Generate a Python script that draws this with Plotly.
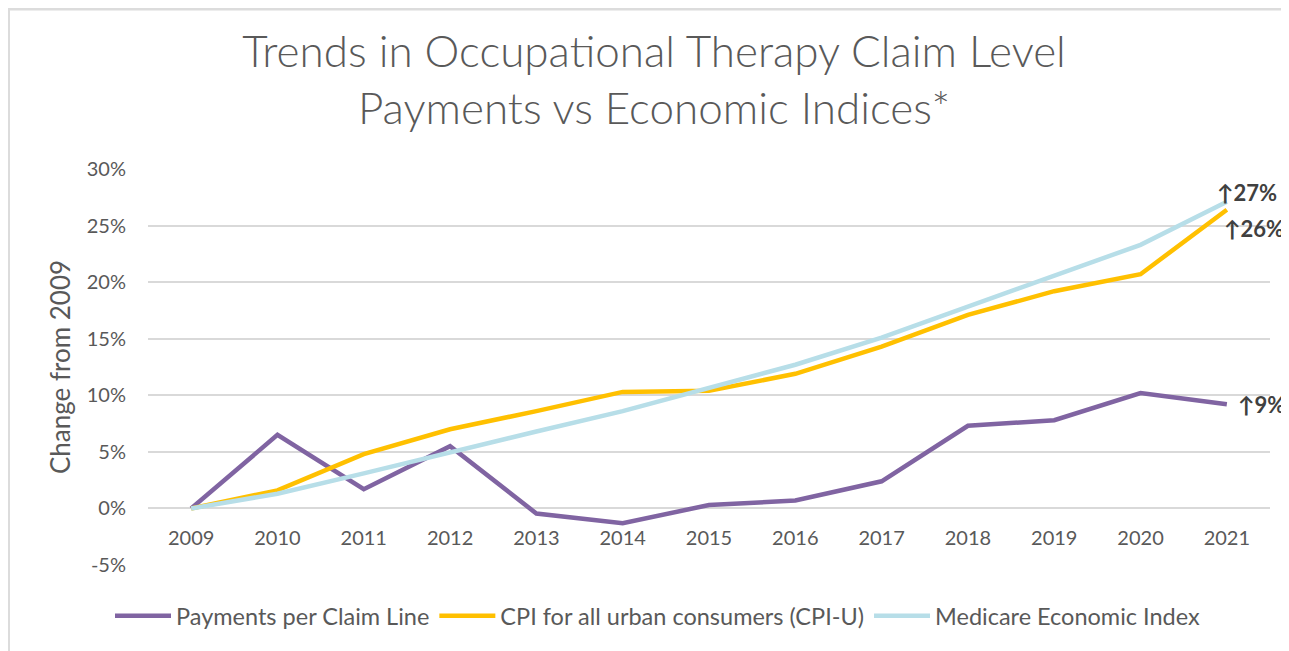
import plotly.graph_objects as go

years = ["2009", "2010", "2011", "2012", "2013", "2014", "2015", "2016", "2017", "2018", "2019", "2020", "2021"]
payments = [0.0, 6.5, 1.7, 5.5, -0.45, -1.3, 0.3, 0.7, 2.4, 7.3, 7.8, 10.2, 9.2]
cpi_u = [0.0, 1.6, 4.8, 7.0, 8.6, 10.3, 10.4, 11.9, 14.3, 17.1, 19.2, 20.7, 26.4]
mei = [0.0, 1.3, 3.1, 5.0, 6.8, 8.6, 10.6, 12.7, 15.1, 17.8, 20.5, 23.3, 27.1]

series_names = ["Payments per Claim Line", "CPI for all urban consumers (CPI-U)", "Medicare Economic Index"]
series_colors = ["#8064A2", "#FFC000", "#B7DEE8"]
y_ticks = [-5, 0, 5, 10, 15, 20, 25, 30]
y_tick_labels = ["-5%", "0%", "5%", "10%", "15%", "20%", "25%", "30%"]

FONT = "Lato, Carlito, Calibri, sans-serif"
GREY = "#595959"

# page has an 8px body margin, so the figure is drawn 8px smaller and offset
W, H = 1281, 643
ML, MR, MT, MB = 140, 19, 161, 86

fig = go.Figure()
for name, vals, col in zip(series_names, [payments, cpi_u, mei], series_colors):
    fig.add_trace(go.Scatter(x=years, y=vals, name=name, mode="lines",
                             line=dict(color=col, width=4.5)))

# end labels at the last category (by index on the category axis)
last = len(years) - 1
end_shifts = [(9, 0), (-12, 9), (-5, -19)]
for vals, (dx, dy) in zip([payments, mei, cpi_u], end_shifts):
    v = vals[-1]
    fig.add_annotation(x=last, y=v, xref="x", yref="y", text=f"<b>↑{round(v)}%</b>",
                       showarrow=False, xanchor="left", yanchor="middle", xshift=dx, yshift=dy,
                       font=dict(family=FONT, size=22, color="#404040"))

fig.update_layout(
    width=W, height=H,
    paper_bgcolor="white", plot_bgcolor="white",
    margin=dict(l=ML, r=MR, t=MT, b=MB),
    title=dict(text="Trends in Occupational Therapy Claim Level<br>Payments vs Economic Indices*",
               x=646 / W, xanchor="center", xref="container", y=1 - 59 / H, yanchor="middle", yref="container",
               font=dict(family=FONT, size=44, color=GREY, weight=300)),
    font=dict(family=FONT, color=GREY),
    legend=dict(orientation="h", x=649.5 / W, xanchor="center", xref="container",
                y=1 - 608 / H, yanchor="middle", yref="container",
                font=dict(family=FONT, size=23.5, color=GREY), itemwidth=56,
                traceorder="normal"),
    xaxis=dict(type="category", range=[-0.5, 12.5], showgrid=False, anchor="free", position=5 / 35,
               showline=False, ticks="", ticklabelstandoff=16, automargin=False,
               tickfont=dict(family=FONT, size=20, color=GREY)),
    yaxis=dict(range=[-5, 30], tickvals=y_ticks, ticktext=y_tick_labels, automargin=False,
               showgrid=True, gridcolor="#D9D9D9", gridwidth=1.5,
               zeroline=True, zerolinecolor="#D9D9D9", zerolinewidth=1.5,
               ticks="", ticklabelstandoff=21,
               tickfont=dict(family=FONT, size=20, color=GREY),
               title=dict(text="Change from 2009", standoff=8,
                          font=dict(family=FONT, size=26, color=GREY))),
)

# chart frame (top and left edges visible)
plot_w = W - ML - MR
plot_h = H - MT - MB
fig.add_shape(type="line", xref="paper", yref="paper", x0=-ML / plot_w, x1=1 + MR / plot_w,
              y0=1 + (MT - 1) / plot_h, y1=1 + (MT - 1) / plot_h,
              line=dict(color="#DCDCDC", width=3))
fig.add_shape(type="line", xref="paper", yref="paper", x0=-(ML - 1) / plot_w, x1=-(ML - 1) / plot_w,
              y0=-MB / plot_h, y1=1 + MT / plot_h,
              line=dict(color="#DCDCDC", width=2))

fig.write_html("out.html")
